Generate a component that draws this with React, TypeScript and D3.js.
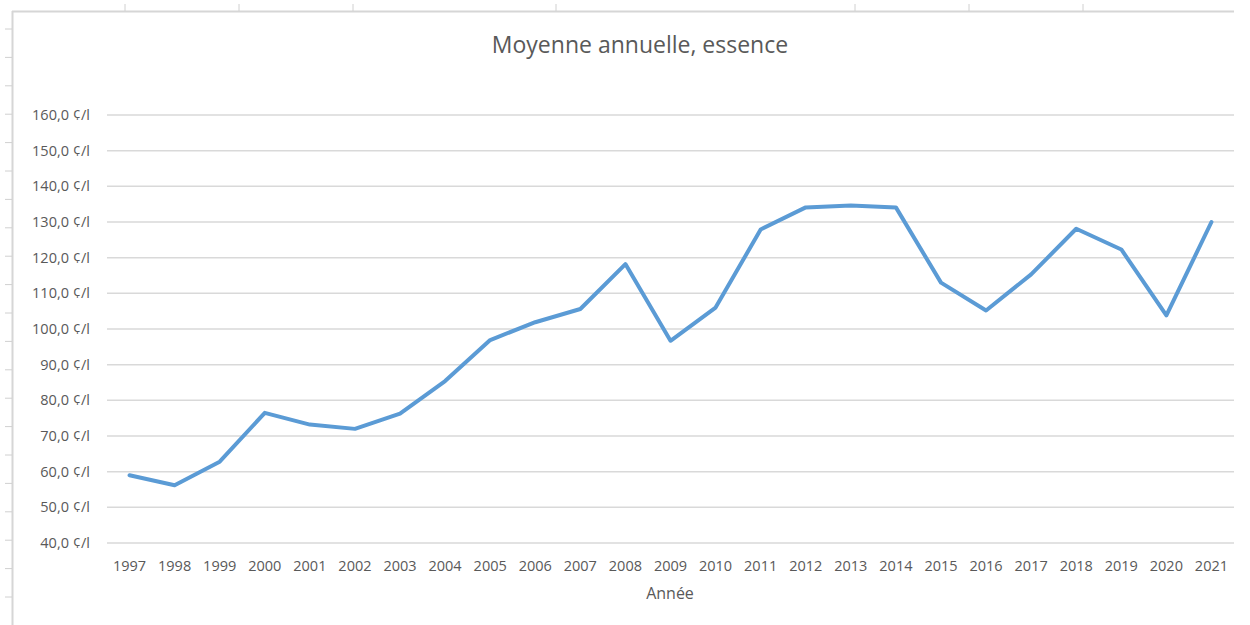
import React from "react";
import * as d3 from "d3";

const years: string[] = ["1997","1998","1999","2000","2001","2002","2003","2004","2005","2006","2007","2008","2009","2010","2011","2012","2013","2014","2015","2016","2017","2018","2019","2020","2021"];
const prices: number[] = [59.0,56.2,62.8,76.5,73.2,72.0,76.3,85.4,96.9,101.9,105.6,118.2,96.7,106.0,127.9,134.1,134.6,134.1,113.0,105.2,115.3,128.1,122.3,103.8,130.0];
const yTicks: number[] = [40,50,60,70,80,90,100,110,120,130,140,150,160];
const title = "Moyenne annuelle, essence";
const xTitle = "Année";

const W = 1250, H = 625;
const plot = { left: 107, right: 1234, top: 115, bottom: 543 };
const FONT = "'Open Sans', 'Noto Sans', sans-serif";
const TXT = "#595959";

export default function App() {
  const x = d3.scaleBand<string>().domain(years).range([plot.left, plot.right]);
  const y = d3.scaleLinear().domain([40, 160]).range([plot.bottom, plot.top]);
  const line = d3.line<number>()
    .x((_, i) => (x(years[i]) as number) + x.bandwidth() / 2)
    .y((d) => y(d));
  const fmt = (v: number) => v.toFixed(1).replace(".", ",") + " ¢/l";

  const topTicks = [125, 239, 353, 556, 855, 969, 1083];
  const leftTicks = d3.range(29, 625, 28.4);

  return (
    <svg width={W} height={H} style={{ position: "absolute", left: 0, top: 0, background: "#fff" }}>
      {/* sheet frame artifacts */}
      <line x1={12} x2={1234} y1={11.5} y2={11.5} stroke="#d6d6d6" strokeWidth={2} />
      <line x1={12.5} x2={12.5} y1={11} y2={625} stroke="#d6d6d6" strokeWidth={2} />
      {topTicks.map((t) => (
        <line key={"tt" + t} x1={t} x2={t} y1={4} y2={11} stroke="#d0d0d0" strokeWidth={1} />
      ))}
      {leftTicks.map((t, i) => (
        <line key={"lt" + i} x1={5} x2={12} y1={t} y2={t} stroke="#d0d0d0" strokeWidth={1} />
      ))}

      <text x={640} y={53} textAnchor="middle" fontFamily={FONT} fontSize={23} fill={TXT}>{title}</text>

      {yTicks.map((t) => (
        <g key={"g" + t}>
          <line x1={plot.left} x2={plot.right} y1={y(t)} y2={y(t)} stroke="#d9d9d9" strokeWidth={1.5} />
          <text x={90} y={y(t) + 5} textAnchor="end" fontFamily={FONT} fontSize={14.5} fill={TXT}>{fmt(t)}</text>
        </g>
      ))}

      {years.map((yr) => (
        <text key={yr} x={(x(yr) as number) + x.bandwidth() / 2} y={571} textAnchor="middle" fontFamily={FONT} fontSize={14.5} fill={TXT}>{yr}</text>
      ))}

      <text x={670} y={599} textAnchor="middle" fontFamily={FONT} fontSize={16} fill={TXT}>{xTitle}</text>

      <path d={line(prices) || ""} fill="none" stroke="#5b9bd5" strokeWidth={4} strokeLinejoin="round" strokeLinecap="round" />
    </svg>
  );
}
